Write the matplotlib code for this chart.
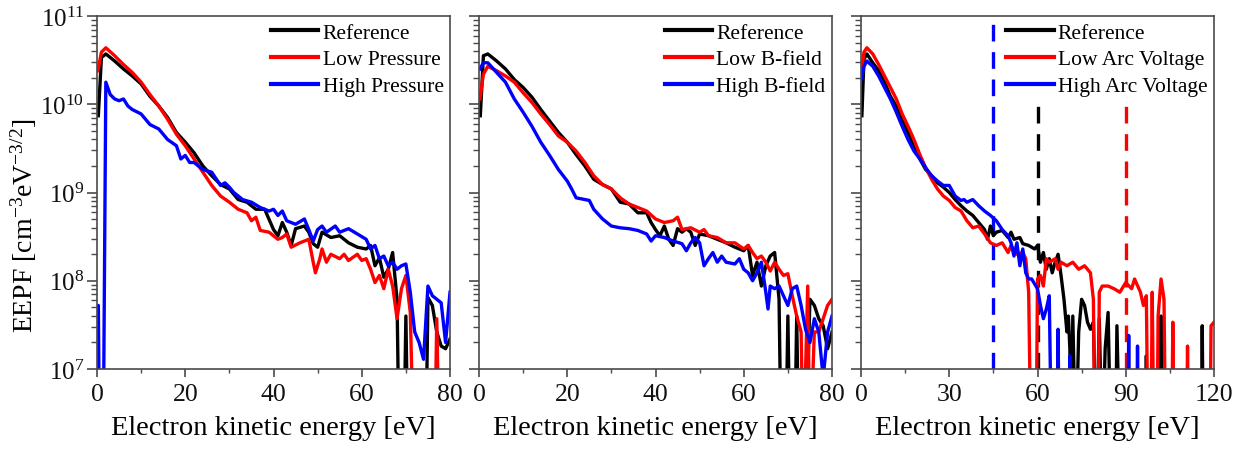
import matplotlib
matplotlib.use("Agg")
import matplotlib.pyplot as plt
import numpy as np
from matplotlib.ticker import LogLocator, MultipleLocator, NullFormatter

plt.rcParams['font.family'] = ['Liberation Serif', 'DejaVu Serif']
plt.rcParams['mathtext.fontset'] = 'custom'
plt.rcParams['mathtext.rm'] = 'Liberation Serif'
plt.rcParams['mathtext.it'] = 'Liberation Serif:italic'
plt.rcParams['mathtext.bf'] = 'Liberation Serif:bold'

# ---------------- data (energies in eV, EEPF given as log10 of cm^-3 eV^-3/2) ----------------
# Panel 1: pressure
e1_ref = [0.3,1,2,4,6,8,10,12,14,16,18,20,22,24,26,28,30,32,34,36,38,40,41,42,43,44,45,47,48,49,50,51,53,55,57,59,61,62,63,64,65,66,67,68,68.5,69.5,70,70.5,72,73,74.5,75,76,77,78,79,80]
lg1_ref = [9.87,10.53,10.57,10.49,10.40,10.32,10.23,10.09,9.98,9.85,9.68,9.57,9.45,9.30,9.19,9.09,9.04,8.92,8.89,8.81,8.81,8.58,8.51,8.66,8.55,8.40,8.59,8.62,8.55,8.42,8.38,8.55,8.49,8.51,8.43,8.38,8.36,8.40,8.17,8.26,8.04,8.13,8.32,7.79,6,6,7.6,6,6,6,6,7.81,7.72,7.42,7.26,7.23,7.34]

e1_low = [0.2,1,2,4,6,8,10,12,14,16,18,20,22,24,26,28,30,32,34,35,36,37,39,41,42,43,44,46,48,49,49.5,50.5,51,52,53,55,56,57,59,60,61,62,63,64,65,66,67,68,69,70,71,71.8,76.5,77,77.6,80]
lg1_low = [10.38,10.59,10.64,10.55,10.45,10.36,10.25,10.11,9.98,9.83,9.66,9.53,9.38,9.23,9.08,8.96,8.89,8.81,8.77,8.68,8.72,8.57,8.55,8.47,8.49,8.53,8.38,8.43,8.47,8.21,8.09,8.25,8.36,8.21,8.30,8.25,8.30,8.23,8.30,8.23,8.25,8.13,7.98,8.06,7.91,8.13,7.94,7.57,7.91,8.06,7.64,6,6,7.57,6,6]

e1_high = [0,0.3,0.6,0.9,1.4,2,3,4,5,6,7,8,10,12,14,16,18,19,20,21,22,24,26,28,29,30,31,33,35,37,39,40,41,42,43,45,47,48,49,50,51,52,54,55,57,59,61,62,63,64,65,66,67,68,69,70,71,72,73,74,75,76,77,78,79,80]
lg1_high = [6,7.72,6,6,6,10.25,10.11,10.06,10.04,10.06,9.98,9.94,9.89,9.77,9.72,9.60,9.53,9.38,9.42,9.34,9.34,9.26,9.23,9.08,9.11,9.06,9.0,8.92,8.89,8.83,8.79,8.81,8.74,8.79,8.68,8.64,8.70,8.58,8.45,8.58,8.62,8.55,8.62,8.55,8.59,8.53,8.47,8.36,8.40,8.25,8.28,8.17,8.21,8.13,8.17,8.19,7.87,7.42,7.30,7.11,7.94,7.83,7.79,7.75,7.30,7.87]

# Panel 2: magnetic field
e2_ref = [0.3,1,2,4,6,8,10,12,14,16,18,20,22,24,26,28,30,32,34,36,38,39,40,41,42,43,44,45,46,47,48,49,50,52,54,56,58,60,61,62,63,64,65,66,67,68,68.5,69.5,70,70.5,71.5,72,72.5,74,75,76,77,78,79,80]
lg2_ref = [9.87,10.55,10.57,10.49,10.40,10.28,10.19,10.08,9.94,9.81,9.68,9.57,9.43,9.30,9.15,9.09,9.04,8.89,8.87,8.77,8.77,8.66,8.58,8.51,8.62,8.47,8.40,8.59,8.55,8.59,8.55,8.40,8.53,8.51,8.47,8.43,8.38,8.34,8.40,8.06,8.21,7.94,8.17,8.28,8.32,7.79,6,6,7.60,6,6,7.60,6,6,7.79,7.72,7.57,7.49,7.23,7.42]

e2_low = [0.2,1,2,4,6,8,10,12,14,16,18,20,22,24,26,28,30,32,34,36,38,40,42,44,45,46,48,50,51,52,54,56,58,60,61,62,63,64,65,66,67,68,69,70,71,72,73,73.5,74.5,75,76,77,78,79,80]
lg2_low = [10.06,10.34,10.43,10.38,10.32,10.25,10.13,10.02,9.89,9.77,9.64,9.57,9.47,9.34,9.19,9.09,9.04,8.94,8.87,8.83,8.79,8.70,8.66,8.68,8.72,8.58,8.60,8.55,8.58,8.51,8.49,8.43,8.43,8.36,8.40,8.32,8.25,8.28,8.21,8.11,8.21,8.13,8.06,8.08,7.83,7.60,7.42,6,7.94,6,7.42,7.42,7.57,7.72,7.79]

e2_high = [0.2,1,2,4,6,8,10,12,14,16,18,20,21,22,24,25,26,28,30,32,34,36,38,39,40,42,44,46,47,48,49,50,51,52,53,54,55,56,58,59,60,61,62,63,64,65,65.5,66,67,68,69,70,71,72,73,74,75,76,77,78,79,80]
lg2_high = [10.40,10.47,10.47,10.36,10.25,10.06,9.91,9.75,9.57,9.42,9.26,9.13,9.04,8.94,8.92,8.91,8.81,8.70,8.62,8.60,8.59,8.57,8.53,8.45,8.51,8.49,8.45,8.42,8.34,8.43,8.49,8.43,8.17,8.25,8.32,8.21,8.28,8.21,8.19,8.25,8.13,8.09,8.0,8.09,8.21,7.87,7.68,7.94,7.91,7.94,7.83,7.72,7.91,7.94,7.72,7.45,7.30,7.57,7.42,6.9,7.42,7.6]

# Panel 3: arc voltage
e3_ref = [0.3,1,2,4,6,8,10,12,14,16,18,20,22,24,26,28,30,32,34,36,38,40,42,43,44,45,46,48,50,51,52,54,55,57,59,60,61,62,63,64,65,66,67,68,69,70,70.5,71,71.5,72,73,74,75,76,77,78,79,80,81,82,83,84,85,86.5,87,88,96.7,97,97.4,101.7,102,102.5,115.7,116,116.4,120]
lg3_ref = [9.87,10.51,10.57,10.47,10.38,10.25,10.09,9.98,9.83,9.68,9.53,9.38,9.26,9.19,9.11,9.06,9.0,8.92,8.85,8.79,8.74,8.66,8.58,8.47,8.62,8.51,8.55,8.57,8.49,8.55,8.47,8.49,8.42,8.40,8.36,8.40,8.21,8.32,8.13,8.25,8.09,8.21,8.30,8.06,7.79,7.42,7.60,7.23,6,7.60,6,7.42,7.79,7.72,7.53,7.45,7.53,6,7.57,6,7.23,7.64,6,6,7.49,6,6,7.15,6,6,7.60,6,6,7.49,6,6]

e3_low = [0.2,1,2,4,6,8,10,12,14,16,18,20,22,24,26,28,30,32,34,36,38,40,42,44,46,48,50,51,53,55,56,57,57.8,59.5,60,61,62,63,64,66,67,68,70,72,74,76,78,79,79.6,80.6,81,82,84,86,88,90,92,93,95,96,97,97.6,98.5,99,99.6,100.6,101,102,103,103.6,105.6,106,106.4,110.6,111,111.4,118.6,119,120]
lg3_low = [10.38,10.59,10.64,10.57,10.45,10.32,10.19,10.06,9.89,9.75,9.60,9.43,9.28,9.15,9.04,8.96,8.91,8.83,8.79,8.68,8.60,8.62,8.53,8.43,8.40,8.43,8.32,8.40,8.30,8.32,8.25,7.87,6,6,8.02,8.06,7.94,8.25,8.21,8.25,8.13,8.21,8.17,8.21,8.13,8.17,8.09,7.79,6,6,7.87,7.94,7.94,7.91,7.87,7.98,7.91,8.02,7.87,7.72,7.83,6,6,7.87,6,6,7.60,8.02,7.79,6,6,7.53,6,6,7.26,6,6,7.49,7.53]

e3_high = [0.2,1,2,4,6,8,10,12,14,16,18,20,22,24,26,28,30,32,34,35,36,38,40,42,44,46,48,50,51,52,53,54,55,56,57,58,60,61,62,63,64,64.8,66.6,67,67.4,70.6,71,71.4,90.6,91,91.4,93.6,94,94.4,96]
lg3_high = [10.29,10.43,10.49,10.43,10.32,10.19,10.06,9.91,9.75,9.60,9.47,9.38,9.28,9.19,9.13,9.08,9.08,8.96,8.91,8.92,8.89,8.92,8.85,8.79,8.74,8.68,8.58,8.51,8.43,8.28,8.43,8.17,8.36,8.09,8.02,8.02,7.91,7.72,7.57,7.68,7.83,6,6,7.45,6,6,7.15,6,6,7.38,6,6,7.26,6,6]

# Vertical dashed markers in panel 3 (eV)
vline_pos = [45, 60, 90]
vline_colors = ['blue', 'black', 'red']

labels1 = ['Reference', 'Low Pressure', 'High Pressure']
labels2 = ['Reference', 'Low B-field', 'High B-field']
labels3 = ['Reference', 'Low Arc Voltage', 'High Arc Voltage']
series_colors = ['black', 'red', 'blue']

xlims = [(0, 80), (0, 80), (0, 120)]
xmajor = [20, 20, 30]
xminor = [10, 10, 15]

panels = [
    ([(e1_ref, lg1_ref), (e1_low, lg1_low), (e1_high, lg1_high)], labels1),
    ([(e2_ref, lg2_ref), (e2_low, lg2_low), (e2_high, lg2_high)], labels2),
    ([(e3_ref, lg3_ref), (e3_low, lg3_low), (e3_high, lg3_high)], labels3),
]

W, H = 1247, 452
fig = plt.figure(figsize=(W / 100, H / 100), dpi=100)
lefts = [97, 479, 861]
axw, axh = 353, 353
bottom = 82

spine_col = '#4a4a4a'
for i, ((series, labels), left) in enumerate(zip(panels, lefts)):
    ax = fig.add_axes([left / W, bottom / H, axw / W, axh / H])
    ax.set_yscale('log')
    if i == 2:
        for xv, c in zip(vline_pos, vline_colors):
            ax.axvline(xv, color=c, lw=2.4, ls=(0, (5.0, 3.2)), zorder=1)
    for (x, lg), c, lab in zip(series, series_colors, labels):
        ax.plot(x, np.power(10.0, lg), color=c, lw=2.4, label=lab,
                solid_joinstyle='round', zorder=2)
    ax.set_xlim(*xlims[i])
    ax.set_ylim(1e7, 1e11)
    ax.xaxis.set_major_locator(MultipleLocator(xmajor[i]))
    ax.xaxis.set_minor_locator(MultipleLocator(xminor[i]))
    ax.yaxis.set_major_locator(LogLocator(base=10, numticks=10))
    ax.yaxis.set_minor_locator(LogLocator(base=10, subs=np.arange(2, 10), numticks=20))
    ax.yaxis.set_minor_formatter(NullFormatter())
    for s in ax.spines.values():
        s.set_color(spine_col)
        s.set_linewidth(1.2)
    ax.tick_params(axis='both', which='both', colors=spine_col, labelcolor='#111111')
    ax.tick_params(axis='x', which='major', direction='out', length=6, width=1.2, labelsize=18.5, pad=4)
    ax.tick_params(axis='x', which='minor', direction='out', length=3, width=1.0)
    ax.tick_params(axis='y', which='major', direction='out', length=7, width=1.2, labelsize=18, pad=2)
    ax.tick_params(axis='y', which='minor', direction='out', length=4, width=1.0)
    if i > 0:
        ax.tick_params(axis='y', which='both', labelleft=False)
    else:
        ax.set_ylabel('EEPF [cm$^{-3}$eV$^{-3/2}$]', fontsize=20)
        ax.yaxis.set_label_coords(-0.165, 0.41)
    ax.set_xlabel('Electron kinetic energy [eV]', fontsize=20.5, labelpad=7)
    leg = ax.legend(loc='upper right', fontsize=15.5, frameon=True, facecolor='white',
                    edgecolor='none', framealpha=1.0, fancybox=False,
                    handlelength=2.2, handletextpad=0.2, labelspacing=0.32,
                    borderpad=0.15, borderaxespad=0.15)
    for h in leg.get_lines():
        h.set_linewidth(3.0)
    leg.set_zorder(5)

fig.savefig('out.png', dpi=100)
